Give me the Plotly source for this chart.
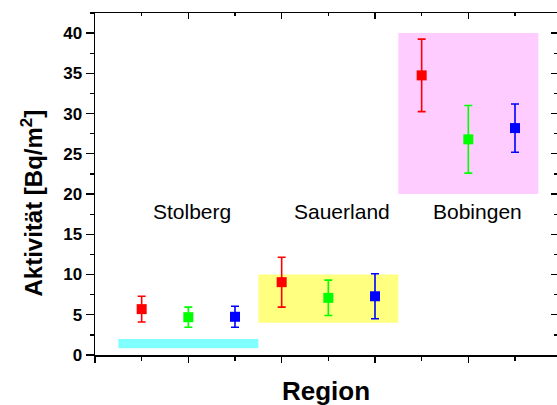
import plotly.graph_objects as go

# ---- data ----
regions = ["Stolberg", "Sauerland", "Bobingen"]
label_x = [2.08, 5.29, 8.2]
label_y = [17.8, 17.8, 17.8]

red_x = [1, 4, 7]
red_vals = [5.7, 9.05, 34.75]
red_err = [1.6, 3.1, 4.5]

green_x = [2, 5, 8]
green_vals = [4.7, 7.1, 26.8]
green_err = [1.25, 2.2, 4.2]

blue_x = [3, 6, 9]
blue_vals = [4.75, 7.3, 28.2]
blue_err = [1.3, 2.8, 3.0]

# background boxes per region: x0, x1, y0, y1
box_x0 = [0.5, 3.5, 6.5]
box_x1 = [3.5, 6.5, 9.5]
box_y0 = [0.85, 4.0, 20.0]
box_y1 = [2.0, 10.0, 40.0]
box_colors = ["#80FFFF", "#FFFF80", "#FFCCFF"]

y_ticks = [0, 5, 10, 15, 20, 25, 30, 35, 40]

FONT = "Liberation Sans, Arial, sans-serif"

fig = go.Figure()

for xs, vals, errs, col in [
    (red_x, red_vals, red_err, "#FF0000"),
    (green_x, green_vals, green_err, "#00FF00"),
    (blue_x, blue_vals, blue_err, "#0000FF"),
]:
    fig.add_trace(go.Scatter(
        x=xs, y=vals, mode="markers",
        marker=dict(symbol="square", size=10, color=col, line=dict(width=0)),
        error_y=dict(type="data", array=errs, visible=True, color=col,
                     thickness=1.6, width=4),
        showlegend=False, cliponaxis=False, hoverinfo="skip",
    ))

# empty trace to create mirrored top/right axes
fig.add_trace(go.Scatter(x=[], y=[], xaxis="x2", yaxis="y2", showlegend=False))

for x0, x1, y0, y1, c in zip(box_x0, box_x1, box_y0, box_y1, box_colors):
    fig.add_shape(type="rect", xref="x", yref="y", x0=x0, x1=x1, y0=y0, y1=y1,
                  fillcolor=c, line=dict(width=0), layer="below")

for name, lx, ly in zip(regions, label_x, label_y):
    fig.add_annotation(x=lx, y=ly, xref="x", yref="y", text=name, showarrow=False,
                       font=dict(family=FONT, size=21, color="#000000"),
                       xanchor="center", yanchor="middle")

# axis titles
fig.add_annotation(x=0.5, y=0, xref="paper", yref="paper", yshift=-36,
                   text="<b>Region</b>", showarrow=False,
                   font=dict(family=FONT, size=26, color="#000000"),
                   xanchor="center", yanchor="middle")
fig.add_annotation(x=0, y=0.443, xref="paper", yref="paper", xshift=-63,
                   text="<b>Aktivität [Bq/m<sup>2</sup>]</b>", showarrow=False,
                   textangle=-90,
                   font=dict(family=FONT, size=24, color="#000000"),
                   xanchor="center", yanchor="middle")

XR = [0, 9.9]
YR = [0, 42.5]

fig.update_layout(
    width=557, height=405,
    margin=dict(l=95, r=0, t=13, b=50),
    paper_bgcolor="white", plot_bgcolor="white",
    font=dict(family=FONT, color="#000000"),
    hovermode=False,
    xaxis=dict(range=XR, showgrid=False, zeroline=False, showline=True,
               linecolor="#000000", linewidth=1.5,
               ticks="outside", ticklen=6, tickwidth=1.3, tickcolor="#000000",
               tick0=0, dtick=2, showticklabels=False,
               minor=dict(ticks="outside", dtick=1, ticklen=4, tickwidth=1.3,
                          tickcolor="#000000", showgrid=False)),
    yaxis=dict(range=YR, showgrid=False, zeroline=False, showline=True,
               linecolor="#000000", linewidth=1.5,
               ticks="outside", ticklen=8, tickwidth=1.3, tickcolor="#000000",
               tickmode="array", tickvals=y_ticks,
               tickfont=dict(family=FONT, size=17, color="#000000", weight="bold"),
               minor=dict(ticks="outside", dtick=2.5, tick0=0, ticklen=4,
                          tickwidth=1.3, tickcolor="#000000", showgrid=False)),
    xaxis2=dict(range=XR, overlaying="x", side="top", anchor="y2",
                showgrid=False, zeroline=False, showline=True,
                linecolor="#000000", linewidth=1.5,
                ticks="inside", ticklen=6, tickwidth=1.3, tickcolor="#000000",
                tick0=0, dtick=2, showticklabels=False,
                minor=dict(ticks="inside", dtick=1, ticklen=3, tickwidth=1.3,
                           tickcolor="#000000", showgrid=False)),
    yaxis2=dict(range=YR, overlaying="y", side="right", anchor="x2",
                showgrid=False, zeroline=False, showline=False,
                ticks="inside", ticklen=6, tickwidth=1.3, tickcolor="#000000",
                tick0=0, dtick=5, showticklabels=False,
                minor=dict(ticks="inside", dtick=2.5, ticklen=3, tickwidth=1.3,
                           tickcolor="#000000", showgrid=False)),
)

fig.write_html(
    "out.html",
    config={"displayModeBar": False, "staticPlot": True},
    post_script="document.body.style.margin='0';document.body.style.padding='0';document.body.style.overflow='hidden';",
)
